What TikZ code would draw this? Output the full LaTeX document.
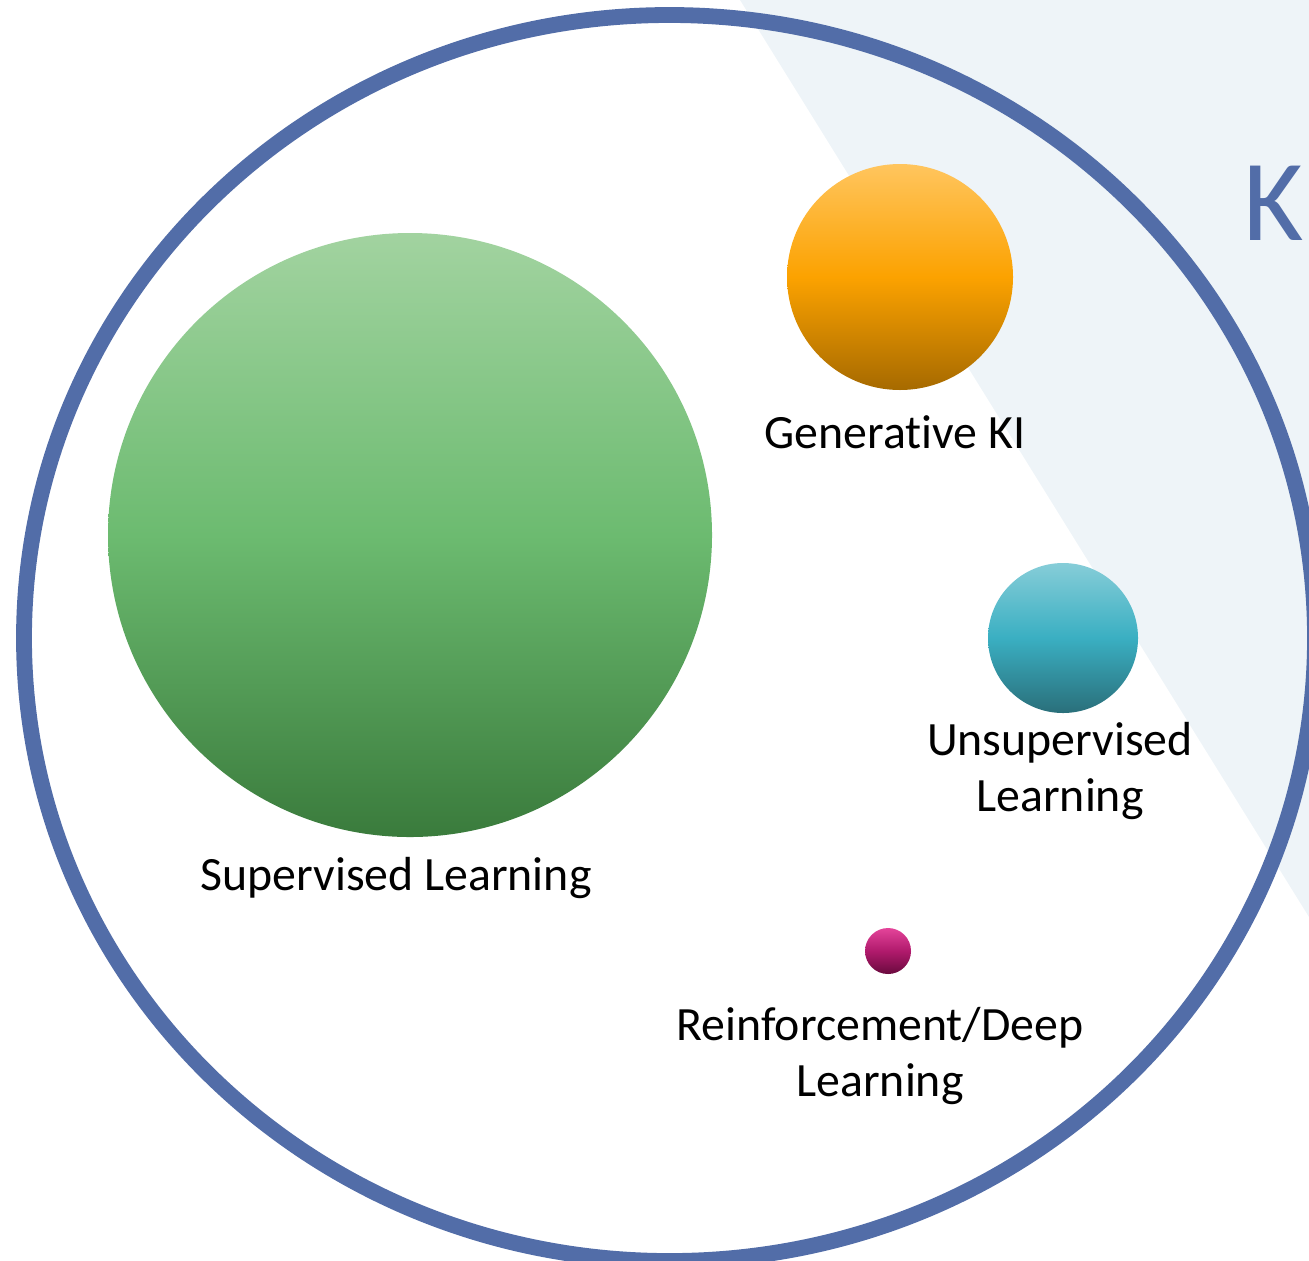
\documentclass[tikz,border=0pt]{standalone}
\usepackage{fontspec}
\setmainfont{Carlito}[Ligatures=NoCommon]
\definecolor{ringblue}{RGB}{82,109,168}
\definecolor{paleblue}{RGB}{238,244,248}
\begin{document}
\begin{tikzpicture}
        \tikzset{ball/.style={circle,inner sep=0pt,shading=axis},
                 lbl/.style={align=center,anchor=base,font=\fontsize{13.6pt}{15.9pt}\selectfont}}
        \useasboundingbox (0,0) rectangle (13.09,12.6);
        \fill[paleblue] (7.40,12.6) -- (13.09,12.6) -- (13.09,3.43) -- cycle;
        \draw[ringblue,line width=4.5pt] (6.695,6.22) ellipse [x radius=6.455,y radius=6.23];

        \node[ball,minimum size=6.04cm,top color={rgb,255:red,162;green,211;blue,160},bottom color={rgb,255:red,58;green,123;blue,60},middle color={rgb,255:red,108;green,187;blue,112}] (sup) at (4.10,7.25) {};
        \node[ball,minimum size=2.26cm,top color={rgb,255:red,255;green,197;blue,94},bottom color={rgb,255:red,166;green,106;blue,0},middle color={rgb,255:red,252;green,162;blue,0}] (gen) at (9.00,9.83) {};
        \node[ball,minimum size=1.50cm,top color={rgb,255:red,134;green,205;blue,216},bottom color={rgb,255:red,42;green,111;blue,122},middle color={rgb,255:red,58;green,175;blue,194}] (unsup) at (10.63,6.22) {};
        \node[ball,minimum size=0.46cm,top color={rgb,255:red,228;green,68;blue,154},bottom color={rgb,255:red,106;green,10;blue,62},middle color={rgb,255:red,176;green,26;blue,108}] (reinf) at (8.88,3.09) {};

        \node[lbl] (suplbl) at (3.96,3.70) {Supervised Learning};
        \node[lbl] (genlbl) at (8.95,8.12) {Generative KI};
        \node[lbl] (unsuplbl) at (10.60,4.49) {Unsupervised\\Learning};
        \node[lbl] (reinflbl) at (8.80,1.64) {Reinforcement/Deep\\Learning};

        \node[anchor=base west,inner sep=0pt,text=ringblue,font=\fontsize{33pt}{40pt}\selectfont] (ki) at (12.43,10.20) {K};
    \end{tikzpicture}
\end{document}
